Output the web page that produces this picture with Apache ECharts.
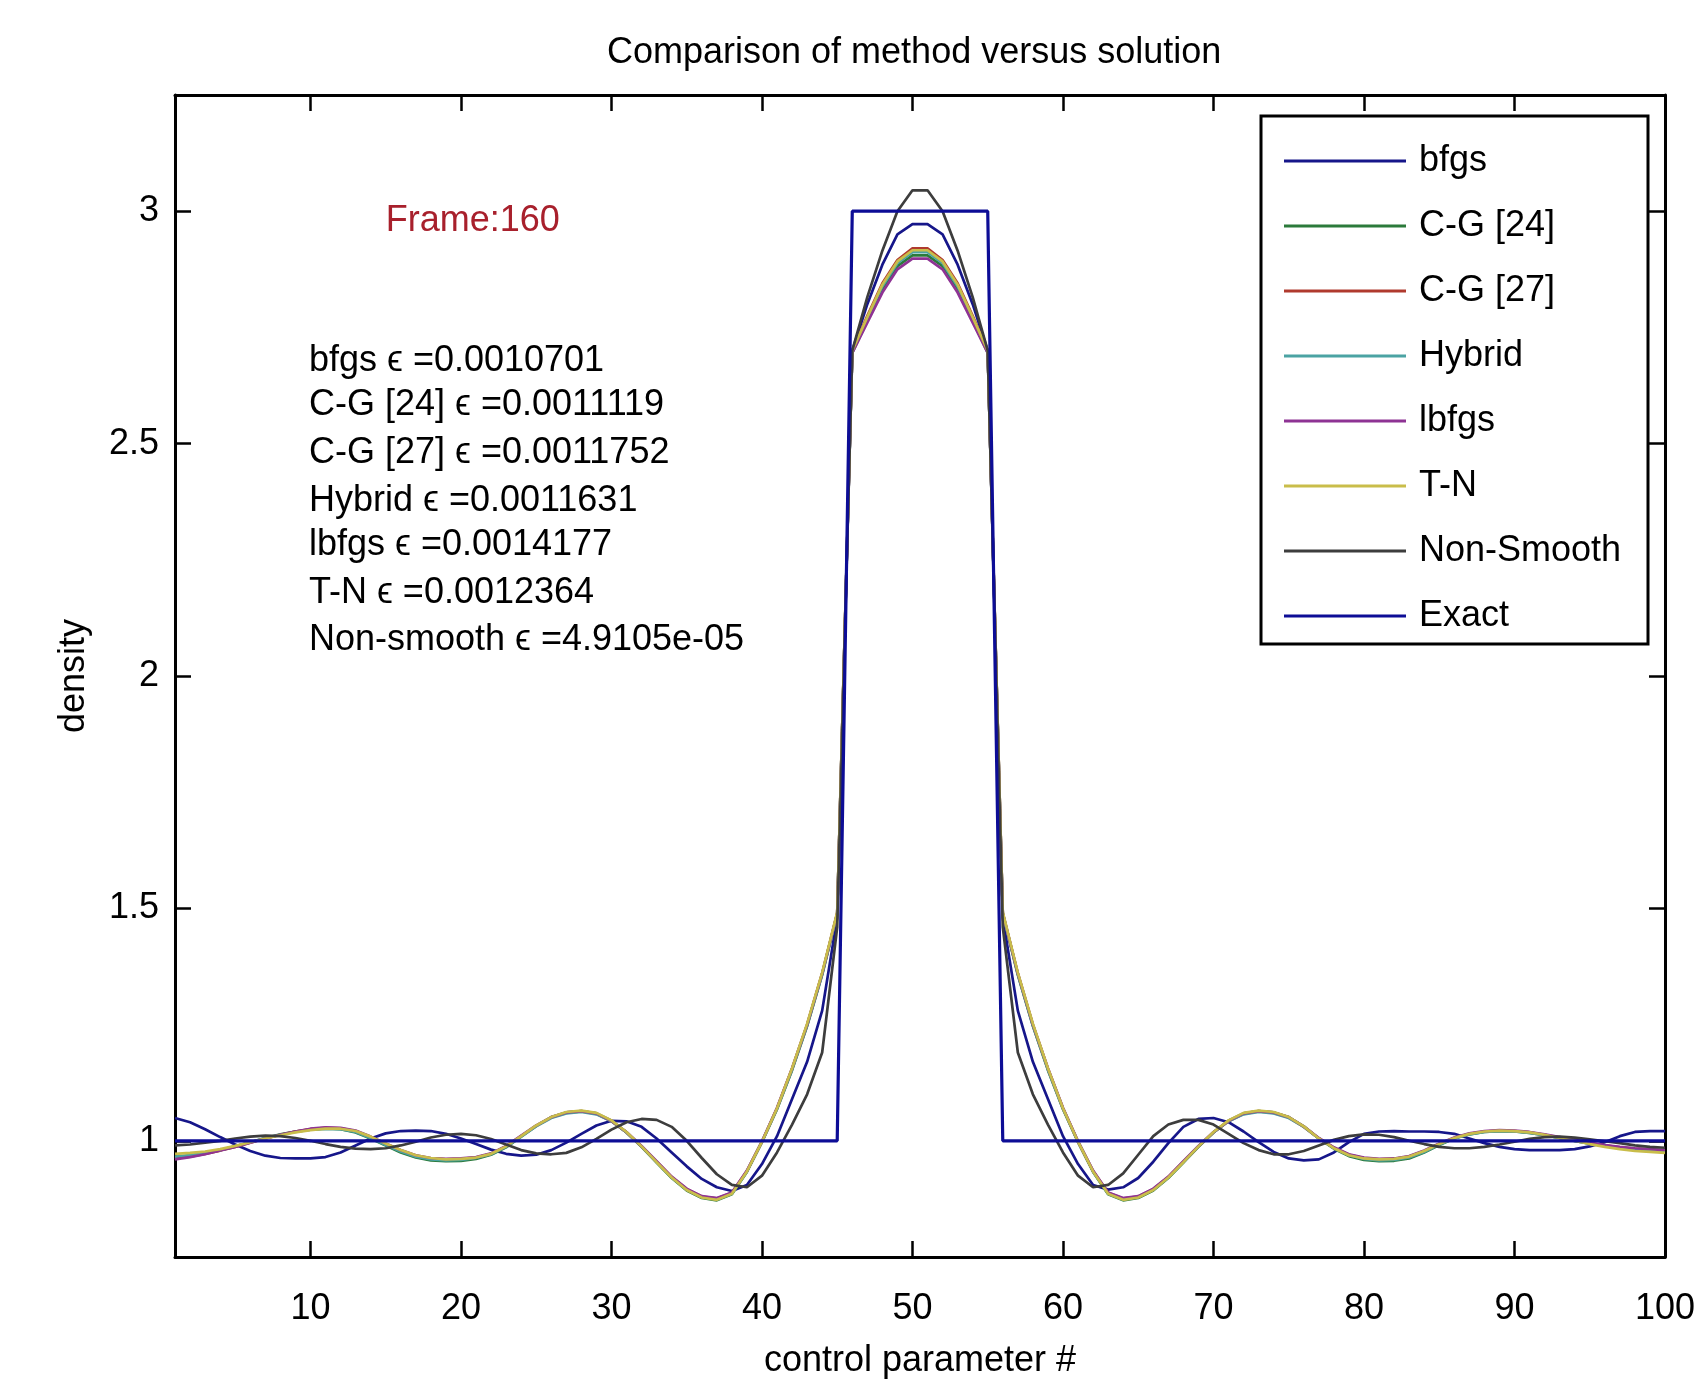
<!DOCTYPE html>
<html><head><meta charset="utf-8">
<script src="https://cdn.jsdelivr.net/npm/echarts@6/dist/echarts.min.js"></script>
<style>html,body{margin:0;padding:0;background:#fff}#c{width:1702px;height:1384px}</style>
</head><body><div id="c"></div><script>
const xValues = [1,2,3,4,5,6,7,8,9,10,11,12,13,14,15,16,17,18,19,20,21,22,23,24,25,26,27,28,29,30,31,32,33,34,35,36,37,38,39,40,41,42,43,44,45,46,47,48,49,50,51,52,53,54,55,56,57,58,59,60,61,62,63,64,65,66,67,68,69,70,71,72,73,74,75,76,77,78,79,80,81,82,83,84,85,86,87,88,89,90,91,92,93,94,95,96,97,98,99,100];

const bfgs = [
 1.049,1.040,1.025,1.008,0.992,0.978,0.968,0.963,0.962,0.962,
 0.965,0.975,0.990,1.005,1.016,1.021,1.022,1.021,1.015,1.005,
 0.993,0.981,0.972,0.968,0.970,0.980,0.996,1.015,1.033,1.043,
 1.042,1.030,1.005,0.975,0.945,0.918,0.900,0.892,0.905,0.950,
 1.010,1.090,1.170,1.280,1.480,2.700,2.800,2.885,2.950,2.972,
 2.972,2.950,2.885,2.800,2.700,1.480,1.280,1.170,1.090,1.010,
 0.950,0.905,0.895,0.900,0.920,0.955,0.995,1.030,1.047,1.049,
 1.040,1.020,0.997,0.976,0.962,0.958,0.960,0.975,0.997,1.015,
 1.020,1.021,1.020,1.020,1.019,1.015,1.005,0.995,0.987,0.982,
 0.980,0.980,0.980,0.982,0.988,0.997,1.010,1.019,1.021,1.021];

const cg24 = [
 0.964,0.968,0.973,0.980,0.988,0.997,1.006,1.014,1.020,1.024,
 1.026,1.025,1.018,1.005,0.990,0.975,0.964,0.958,0.956,0.957,
 0.961,0.970,0.986,1.009,1.032,1.051,1.061,1.064,1.059,1.043,
 1.018,0.987,0.953,0.920,0.893,0.877,0.872,0.885,0.933,0.997,
 1.068,1.152,1.247,1.357,1.488,2.695,2.765,2.832,2.882,2.905,
 2.905,2.882,2.832,2.765,2.695,1.488,1.357,1.247,1.152,1.068,
 0.997,0.933,0.885,0.872,0.877,0.893,0.920,0.953,0.987,1.018,
 1.043,1.059,1.064,1.061,1.051,1.031,1.005,0.983,0.967,0.959,
 0.956,0.957,0.962,0.975,0.991,1.005,1.014,1.019,1.021,1.020,
 1.017,1.012,1.006,1.000,0.994,0.989,0.985,0.982,0.980,0.978];

const cg27 = [
 0.962,0.966,0.972,0.979,0.987,0.996,1.005,1.013,1.020,1.025,
 1.028,1.027,1.021,1.008,0.993,0.979,0.968,0.962,0.960,0.961,
 0.964,0.972,0.988,1.010,1.032,1.050,1.060,1.063,1.058,1.042,
 1.018,0.988,0.955,0.922,0.896,0.880,0.876,0.888,0.935,0.998,
 1.070,1.155,1.250,1.360,1.490,2.700,2.775,2.845,2.895,2.920,
 2.920,2.895,2.845,2.775,2.700,1.490,1.360,1.250,1.155,1.070,
 0.998,0.935,0.888,0.876,0.880,0.896,0.922,0.955,0.988,1.018,
 1.042,1.058,1.063,1.060,1.050,1.030,1.005,0.985,0.970,0.963,
 0.960,0.961,0.966,0.978,0.993,1.006,1.015,1.020,1.022,1.021,
 1.018,1.013,1.007,1.001,0.995,0.990,0.986,0.983,0.981,0.979];

const hybrid = [
 0.966,0.969,0.974,0.980,0.988,0.997,1.006,1.013,1.019,1.024,
 1.026,1.025,1.019,1.006,0.991,0.977,0.966,0.960,0.958,0.959,
 0.963,0.971,0.987,1.009,1.031,1.049,1.059,1.062,1.057,1.042,
 1.018,0.988,0.954,0.921,0.895,0.879,0.874,0.886,0.934,0.998,
 1.069,1.153,1.248,1.358,1.489,2.698,2.770,2.838,2.888,2.912,
 2.912,2.888,2.838,2.770,2.698,1.489,1.358,1.248,1.153,1.069,
 0.998,0.934,0.886,0.874,0.879,0.895,0.921,0.954,0.988,1.018,
 1.042,1.057,1.062,1.059,1.049,1.030,1.005,0.984,0.969,0.961,
 0.958,0.959,0.964,0.976,0.992,1.005,1.014,1.019,1.021,1.020,
 1.017,1.012,1.006,1.000,0.994,0.989,0.985,0.982,0.980,0.978];

const lbfgs = [
 0.960,0.965,0.971,0.979,0.987,0.996,1.005,1.013,1.020,1.026,
 1.029,1.028,1.022,1.009,0.994,0.980,0.969,0.963,0.961,0.962,
 0.965,0.973,0.989,1.011,1.033,1.051,1.061,1.064,1.059,1.043,
 1.019,0.989,0.956,0.923,0.897,0.881,0.877,0.889,0.936,0.999,
 1.071,1.156,1.250,1.360,1.490,2.695,2.760,2.825,2.875,2.898,
 2.898,2.875,2.825,2.760,2.695,1.490,1.360,1.250,1.156,1.071,
 0.999,0.936,0.889,0.877,0.881,0.897,0.923,0.956,0.989,1.019,
 1.043,1.059,1.064,1.061,1.051,1.031,1.006,0.986,0.971,0.964,
 0.961,0.962,0.967,0.979,0.994,1.007,1.016,1.021,1.023,1.022,
 1.019,1.014,1.008,1.002,0.996,0.991,0.987,0.984,0.982,0.980];

const tn = [
 0.972,0.974,0.977,0.982,0.989,0.997,1.005,1.012,1.018,1.023,
 1.026,1.026,1.021,1.009,0.994,0.980,0.969,0.963,0.960,0.961,
 0.964,0.972,0.988,1.010,1.033,1.051,1.062,1.065,1.060,1.044,
 1.019,0.988,0.954,0.921,0.894,0.878,0.873,0.886,0.934,0.998,
 1.070,1.156,1.252,1.362,1.492,2.700,2.772,2.842,2.892,2.916,
 2.916,2.892,2.842,2.772,2.700,1.492,1.362,1.252,1.156,1.070,
 0.998,0.934,0.886,0.873,0.878,0.894,0.921,0.954,0.988,1.019,
 1.044,1.060,1.065,1.062,1.051,1.031,1.005,0.984,0.969,0.962,
 0.960,0.961,0.966,0.978,0.993,1.006,1.015,1.020,1.022,1.021,
 1.018,1.013,1.006,1.000,0.993,0.987,0.982,0.978,0.976,0.974];

const nonSmooth = [
 0.990,0.992,0.996,1.000,1.005,1.009,1.011,1.010,1.006,1.000,
 0.993,0.987,0.983,0.982,0.984,0.990,0.998,1.007,1.013,1.015,
 1.012,1.004,0.992,0.980,0.973,0.971,0.974,0.986,1.004,1.024,
 1.040,1.047,1.045,1.030,1.000,0.963,0.928,0.905,0.900,0.925,
 0.975,1.035,1.100,1.190,1.460,2.700,2.815,2.915,3.000,3.045,
 3.045,3.000,2.915,2.815,2.700,1.460,1.190,1.100,1.035,0.975,
 0.925,0.900,0.905,0.930,0.970,1.010,1.035,1.045,1.045,1.035,
 1.015,0.995,0.980,0.971,0.971,0.978,0.990,1.002,1.010,1.014,
 1.013,1.008,1.000,0.993,0.987,0.984,0.984,0.987,0.992,0.998,
 1.004,1.008,1.009,1.007,1.003,0.999,0.995,0.990,0.987,0.985];

const exact = [
 1,1,1,1,1,1,1,1,1,1,
 1,1,1,1,1,1,1,1,1,1,
 1,1,1,1,1,1,1,1,1,1,
 1,1,1,1,1,1,1,1,1,1,
 1,1,1,1,1,3,3,3,3,3,
 3,3,3,3,3,1,1,1,1,1,
 1,1,1,1,1,1,1,1,1,1,
 1,1,1,1,1,1,1,1,1,1,
 1,1,1,1,1,1,1,1,1,1,
 1,1,1,1,1,1,1,1,1,1];

const seriesNames = ['bfgs','C-G [24]','C-G [27]','Hybrid','lbfgs','T-N','Non-Smooth','Exact'];
const seriesValues = [bfgs, cg24, cg27, hybrid, lbfgs, tn, nonSmooth, exact];
const seriesColors = ['#16168a','#2b7a3b','#b03a2e','#4ba3a3','#8e3394','#c9bd4a','#3d3d3d','#0d0d96'];

const xTicks = [10,20,30,40,50,60,70,80,90,100];
const yTicks = [1,1.5,2,2.5,3];

const annotationTexts = ['bfgs ϵ =0.0010701','C-G [24] ϵ =0.0011119','C-G [27] ϵ =0.0011752','Hybrid ϵ =0.0011631','lbfgs ϵ =0.0014177','T-N ϵ =0.0012364','Non-smooth ϵ =4.9105e-05'];
const annotationY = [2.677, 2.582, 2.479, 2.376, 2.281, 2.178, 2.077];
const annotationX = 9.9;
const frameText = 'Frame:160';
const framePos = [15, 2.978];

const FONT = 'Liberation Sans, Arial, sans-serif';

const chart = echarts.init(document.getElementById('c'));

const axisLineStyle = {show:true, onZero:false, lineStyle:{color:'#000', width:3}};
const tickStyle = (vals) => ({show:true, inside:true, length:16, customValues:vals, lineStyle:{color:'#000', width:2.5}});

const lineSeries = seriesNames.map((name, i) => ({
  name: name,
  type: 'line',
  data: xValues.map((x, j) => [x, seriesValues[i][j]]),
  symbol: 'none',
  showSymbol: false,
  smooth: false,
  lineStyle: {color: seriesColors[i], width: i === 7 ? 3.2 : 2.7},
  itemStyle: {color: seriesColors[i]},
  silent: true,
  z: 2 + i
}));

const annotSeries = {
  name: 'annotations',
  type: 'scatter',
  symbolSize: 0,
  silent: true,
  z: 20,
  itemStyle: {opacity: 1},
  data: annotationY.map(y => [annotationX, y]),
  label: {
    show: true, position: 'right', distance: 0,
    formatter: p => annotationTexts[p.dataIndex],
    color: '#000', fontSize: 36, fontFamily: FONT
  }
};

const frameSeries = {
  name: 'frame',
  type: 'scatter',
  symbolSize: 0,
  silent: true,
  z: 20,
  itemStyle: {opacity: 1},
  data: [framePos],
  label: {
    show: true, position: 'right', distance: 0,
    formatter: frameText,
    color: '#a8202c', fontSize: 36, fontFamily: FONT
  }
};

chart.setOption({
  animation: false,
  backgroundColor: '#fff',
  title: {
    text: 'Comparison of method versus solution',
    left: 602, top: 30,
    textStyle: {color:'#000', fontSize:36, fontWeight:'normal', fontFamily: FONT}
  },
  grid: {left:175, right:37, top:95, bottom:116, containLabel:false},
  legend: {
    data: seriesNames,
    orient: 'vertical',
    left: 1261, top: 116,
    itemWidth: 122, itemHeight: 20,
    itemGap: 21,
    padding: [23, 14, 6, 23],
    backgroundColor: '#fff',
    borderColor: '#000', borderWidth: 3,
    icon: 'path://M0,8.4 L122,8.4 L122,11.6 L0,11.6 Z',
    textStyle: {color:'#000', fontSize:36, fontFamily: FONT, lineHeight:44, width:215, padding:[0,0,0,8]},
    selectedMode: false,
    z: 30
  },
  xAxis: [
    {type:'value', min:1, max:100, position:'bottom',
     axisLine: axisLineStyle, axisTick: tickStyle(xTicks),
     axisLabel: {customValues:xTicks, color:'#000', fontSize:36, fontFamily:FONT, margin:34},
     splitLine:{show:false},
     name:'control parameter #', nameLocation:'middle', nameGap:86,
     nameTextStyle:{color:'#000', fontSize:36, fontFamily:FONT}},
    {type:'value', min:1, max:100, position:'top',
     axisLine: axisLineStyle, axisTick: tickStyle(xTicks),
     axisLabel:{show:false}, splitLine:{show:false}}
  ],
  yAxis: [
    {type:'value', min:0.75, max:3.25, position:'left',
     axisLine: axisLineStyle, axisTick: tickStyle(yTicks),
     axisLabel: {customValues:yTicks, color:'#000', fontSize:36, fontFamily:FONT, margin:16},
     splitLine:{show:false},
     name:'density', nameLocation:'middle', nameGap:83,
     nameTextStyle:{color:'#000', fontSize:36, fontFamily:FONT}},
    {type:'value', min:0.75, max:3.25, position:'right',
     axisLine: axisLineStyle, axisTick: tickStyle(yTicks),
     axisLabel:{show:false}, splitLine:{show:false}}
  ],
  series: lineSeries.concat([annotSeries, frameSeries])
});
</script></body></html>
